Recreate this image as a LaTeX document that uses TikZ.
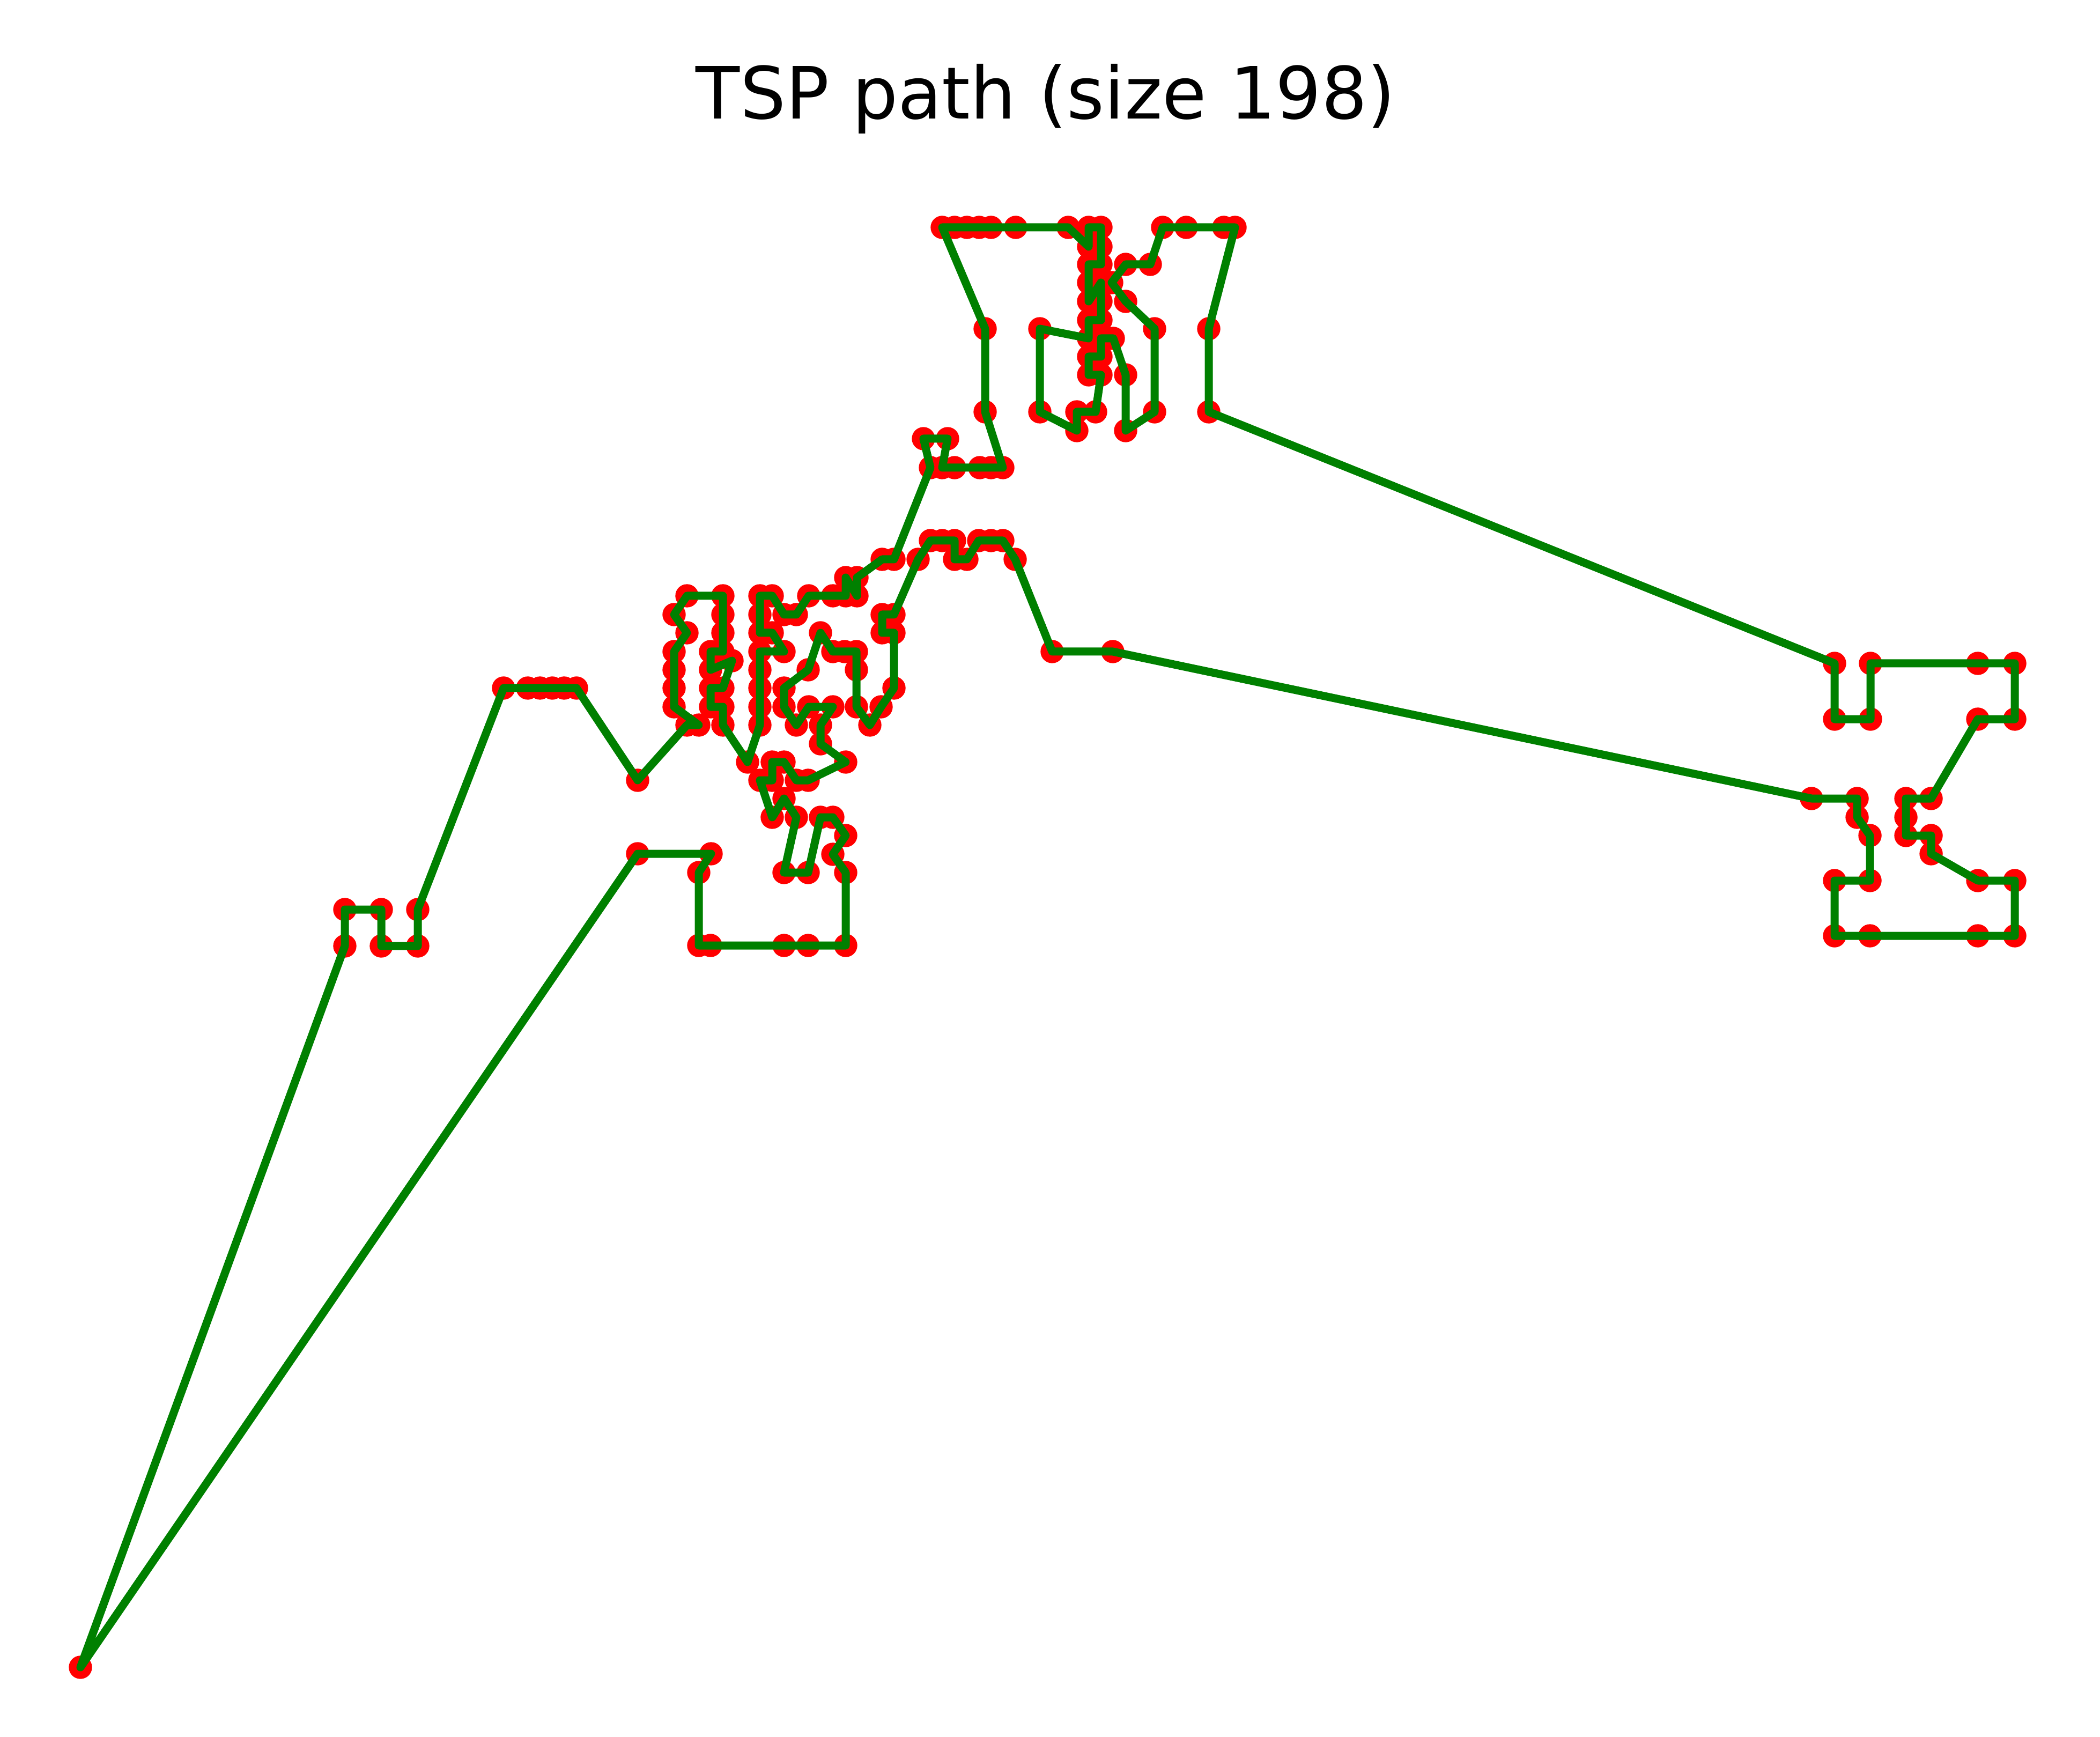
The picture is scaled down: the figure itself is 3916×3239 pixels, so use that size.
\documentclass[tikz,border=0pt]{standalone}
\usepackage{fontspec}
\setmainfont{DejaVu Sans}
\tikzset{every picture/.style={line width=0.75pt}}
\tikzset{
  city/.style={circle,fill={rgb, 255:red, 255; green, 0; blue, 0 },inner sep=0pt,minimum size=10.85pt},
  tour/.style={draw={rgb, 255:red, 0; green, 128; blue, 0 },line width=3.75pt,line join=round}
}
\begin{document}
\begin{tikzpicture}[x=0.25pt,y=0.25pt,yscale=-1,xscale=1]
	%set diagram size 3916 x 3239
	\path (0,0) rectangle (3916,3239);
	%Title
	\node [anchor=base] (title) at (1950,222) {\fontsize{33.6}{40}\selectfont TSP path (size 198)};
	
	%Cities: far point and left block
	\node [city] (c1) at (150,3109) {};
	\node [city] (c2) at (643,1764) {};
	\node [city] (c3) at (643,1696) {};
	\node [city] (c4) at (711,1696) {};
	\node [city] (c5) at (711,1764) {};
	\node [city] (c6) at (779,1764) {};
	\node [city] (c7) at (779,1696) {};
	\node [city] (c8) at (939,1283) {};
	\node [city] (c9) at (984,1283) {};
	\node [city] (c10) at (1007,1283) {};
	\node [city] (c11) at (1030,1283) {};
	\node [city] (c12) at (1052,1283) {};
	\node [city] (c13) at (1075,1283) {};
	\node [city] (c14) at (1189,1455) {};
	%Cities: middle block
	\node [city] (c15) at (1281,1352) {};
	\node [city] (c16) at (1303,1352) {};
	\node [city] (c17) at (1257,1318) {};
	\node [city] (c18) at (1257,1283) {};
	\node [city] (c19) at (1257,1249) {};
	\node [city] (c20) at (1257,1215) {};
	\node [city] (c21) at (1281,1180) {};
	\node [city] (c22) at (1257,1146) {};
	\node [city] (c23) at (1281,1111) {};
	\node [city] (c24) at (1348,1111) {};
	\node [city] (c25) at (1348,1146) {};
	\node [city] (c26) at (1348,1180) {};
	\node [city] (c27) at (1348,1215) {};
	\node [city] (c28) at (1325,1215) {};
	\node [city] (c29) at (1325,1249) {};
	\node [city] (c30) at (1365,1232) {};
	\node [city] (c31) at (1348,1283) {};
	\node [city] (c32) at (1325,1283) {};
	\node [city] (c33) at (1325,1318) {};
	\node [city] (c34) at (1348,1318) {};
	\node [city] (c35) at (1348,1352) {};
	\node [city] (c36) at (1394,1421) {};
	\node [city] (c37) at (1417,1352) {};
	\node [city] (c38) at (1417,1318) {};
	\node [city] (c39) at (1417,1283) {};
	\node [city] (c40) at (1417,1249) {};
	\node [city] (c41) at (1417,1215) {};
	\node [city] (c42) at (1462,1215) {};
	\node [city] (c43) at (1440,1180) {};
	\node [city] (c44) at (1417,1180) {};
	\node [city] (c45) at (1417,1146) {};
	\node [city] (c46) at (1417,1111) {};
	\node [city] (c47) at (1440,1111) {};
	\node [city] (c48) at (1462,1146) {};
	\node [city] (c49) at (1485,1146) {};
	\node [city] (c50) at (1508,1111) {};
	\node [city] (c51) at (1553,1111) {};
	\node [city] (c52) at (1577,1111) {};
	\node [city] (c53) at (1577,1077) {};
	\node [city] (c54) at (1598,1111) {};
	\node [city] (c55) at (1598,1077) {};
	\node [city] (c56) at (1645,1043) {};
	\node [city] (c57) at (1667,1043) {};
	%Cities: top block
	\node [city] (c58) at (1735,872) {};
	\node [city] (c59) at (1722,818) {};
	\node [city] (c60) at (1767,818) {};
	\node [city] (c61) at (1757,872) {};
	\node [city] (c62) at (1780,872) {};
	\node [city] (c63) at (1827,872) {};
	\node [city] (c64) at (1848,872) {};
	\node [city] (c65) at (1870,872) {};
	\node [city] (c66) at (1837,768) {};
	\node [city] (c67) at (1837,613) {};
	\node [city] (c68) at (1757,424) {};
	\node [city] (c69) at (1780,424) {};
	\node [city] (c70) at (1803,424) {};
	\node [city] (c71) at (1826,424) {};
	\node [city] (c72) at (1848,424) {};
	\node [city] (c73) at (1894,424) {};
	\node [city] (c74) at (1992,424) {};
	\node [city] (c75) at (2030,460) {};
	\node [city] (c76) at (2030,424) {};
	\node [city] (c77) at (2053,424) {};
	\node [city] (c78) at (2053,460) {};
	\node [city] (c79) at (2053,493) {};
	\node [city] (c80) at (2030,493) {};
	\node [city] (c81) at (2030,527) {};
	\node [city] (c82) at (2030,562) {};
	\node [city] (c83) at (2053,527) {};
	\node [city] (c84) at (2053,562) {};
	\node [city] (c85) at (2053,597) {};
	\node [city] (c86) at (2030,597) {};
	\node [city] (c87) at (2030,631) {};
	\node [city] (c88) at (1939,613) {};
	\node [city] (c89) at (1939,768) {};
	\node [city] (c90) at (2008,803) {};
	\node [city] (c91) at (2008,768) {};
	\node [city] (c92) at (2043,768) {};
	\node [city] (c93) at (2053,699) {};
	\node [city] (c94) at (2030,699) {};
	\node [city] (c95) at (2030,665) {};
	\node [city] (c96) at (2053,665) {};
	\node [city] (c97) at (2053,631) {};
	\node [city] (c98) at (2076,631) {};
	\node [city] (c99) at (2099,699) {};
	\node [city] (c100) at (2099,803) {};
	\node [city] (c101) at (2153,768) {};
	\node [city] (c102) at (2153,613) {};
	\node [city] (c103) at (2099,562) {};
	\node [city] (c104) at (2073,527) {};
	\node [city] (c105) at (2099,493) {};
	\node [city] (c106) at (2145,493) {};
	\node [city] (c107) at (2168,424) {};
	\node [city] (c108) at (2212,424) {};
	\node [city] (c109) at (2282,424) {};
	\node [city] (c110) at (2303,424) {};
	\node [city] (c111) at (2254,613) {};
	\node [city] (c112) at (2254,768) {};
	%Cities: right block
	\node [city] (c113) at (3421,1237) {};
	\node [city] (c114) at (3421,1341) {};
	\node [city] (c115) at (3488,1341) {};
	\node [city] (c116) at (3488,1237) {};
	\node [city] (c117) at (3688,1237) {};
	\node [city] (c118) at (3757,1237) {};
	\node [city] (c119) at (3757,1341) {};
	\node [city] (c120) at (3688,1341) {};
	\node [city] (c121) at (3601,1489) {};
	\node [city] (c122) at (3554,1489) {};
	\node [city] (c123) at (3554,1524) {};
	\node [city] (c124) at (3554,1558) {};
	\node [city] (c125) at (3601,1558) {};
	\node [city] (c126) at (3601,1592) {};
	\node [city] (c127) at (3688,1642) {};
	\node [city] (c128) at (3757,1642) {};
	\node [city] (c129) at (3757,1745) {};
	\node [city] (c130) at (3688,1745) {};
	\node [city] (c131) at (3487,1745) {};
	\node [city] (c132) at (3421,1745) {};
	\node [city] (c133) at (3421,1642) {};
	\node [city] (c134) at (3487,1642) {};
	\node [city] (c135) at (3487,1558) {};
	\node [city] (c136) at (3463,1524) {};
	\node [city] (c137) at (3463,1489) {};
	\node [city] (c138) at (3378,1489) {};
	%Cities: way back
	\node [city] (c139) at (2075,1215) {};
	\node [city] (c140) at (1962,1215) {};
	\node [city] (c141) at (1893,1043) {};
	\node [city] (c142) at (1870,1008) {};
	\node [city] (c143) at (1848,1008) {};
	\node [city] (c144) at (1825,1008) {};
	\node [city] (c145) at (1803,1043) {};
	\node [city] (c146) at (1780,1043) {};
	\node [city] (c147) at (1780,1008) {};
	\node [city] (c148) at (1757,1008) {};
	\node [city] (c149) at (1735,1008) {};
	\node [city] (c150) at (1712,1043) {};
	\node [city] (c151) at (1667,1146) {};
	\node [city] (c152) at (1645,1146) {};
	\node [city] (c153) at (1645,1180) {};
	\node [city] (c154) at (1667,1180) {};
	\node [city] (c155) at (1667,1283) {};
	\node [city] (c156) at (1643,1318) {};
	\node [city] (c157) at (1622,1352) {};
	\node [city] (c158) at (1597,1318) {};
	\node [city] (c159) at (1597,1249) {};
	\node [city] (c160) at (1597,1215) {};
	\node [city] (c161) at (1575,1215) {};
	\node [city] (c162) at (1553,1215) {};
	\node [city] (c163) at (1530,1180) {};
	\node [city] (c164) at (1507,1249) {};
	\node [city] (c165) at (1462,1283) {};
	\node [city] (c166) at (1462,1318) {};
	\node [city] (c167) at (1485,1352) {};
	\node [city] (c168) at (1508,1318) {};
	\node [city] (c169) at (1553,1318) {};
	\node [city] (c170) at (1530,1352) {};
	\node [city] (c171) at (1530,1387) {};
	\node [city] (c172) at (1577,1421) {};
	\node [city] (c173) at (1507,1455) {};
	\node [city] (c174) at (1485,1455) {};
	\node [city] (c175) at (1462,1421) {};
	\node [city] (c176) at (1440,1421) {};
	\node [city] (c177) at (1440,1455) {};
	\node [city] (c178) at (1417,1455) {};
	\node [city] (c179) at (1440,1524) {};
	\node [city] (c180) at (1462,1489) {};
	\node [city] (c181) at (1485,1524) {};
	\node [city] (c182) at (1462,1627) {};
	\node [city] (c183) at (1507,1627) {};
	\node [city] (c184) at (1530,1524) {};
	\node [city] (c185) at (1553,1524) {};
	\node [city] (c186) at (1577,1558) {};
	\node [city] (c187) at (1553,1593) {};
	\node [city] (c188) at (1577,1627) {};
	\node [city] (c189) at (1577,1763) {};
	\node [city] (c190) at (1507,1763) {};
	\node [city] (c191) at (1462,1763) {};
	\node [city] (c192) at (1325,1763) {};
	\node [city] (c193) at (1303,1763) {};
	\node [city] (c194) at (1303,1627) {};
	\node [city] (c195) at (1326,1592) {};
	\node [city] (c196) at (1189,1592) {};
	
	%Tour
	\draw [tour] (c1.center) -- (c2.center) -- (c3.center) -- (c4.center) -- (c5.center) -- (c6.center) -- (c7.center) -- (c8.center) -- (c9.center) -- (c10.center) -- (c11.center) -- (c12.center) -- (c13.center) -- (c14.center)
	 -- (c15.center) -- (c16.center) -- (c17.center) -- (c18.center) -- (c19.center) -- (c20.center) -- (c21.center) -- (c22.center) -- (c23.center) -- (c24.center) -- (c25.center) -- (c26.center) -- (c27.center) -- (c28.center) -- (c29.center) -- (c30.center)
	 -- (c31.center) -- (c32.center) -- (c33.center) -- (c34.center) -- (c35.center) -- (c36.center) -- (c37.center) -- (c38.center) -- (c39.center) -- (c40.center) -- (c41.center) -- (c42.center) -- (c43.center) -- (c44.center) -- (c45.center)
	 -- (c46.center) -- (c47.center) -- (c48.center) -- (c49.center) -- (c50.center) -- (c51.center) -- (c52.center) -- (c53.center) -- (c54.center) -- (c55.center) -- (c56.center) -- (c57.center) -- (c58.center) -- (c59.center) -- (c60.center)
	 -- (c61.center) -- (c62.center) -- (c63.center) -- (c64.center) -- (c65.center) -- (c66.center) -- (c67.center) -- (c68.center) -- (c69.center) -- (c70.center) -- (c71.center) -- (c72.center) -- (c73.center) -- (c74.center) -- (c75.center)
	 -- (c76.center) -- (c77.center) -- (c78.center) -- (c79.center) -- (c80.center) -- (c81.center) -- (c82.center) -- (c83.center) -- (c84.center) -- (c85.center) -- (c86.center) -- (c87.center) -- (c88.center) -- (c89.center) -- (c90.center)
	 -- (c91.center) -- (c92.center) -- (c93.center) -- (c94.center) -- (c95.center) -- (c96.center) -- (c97.center) -- (c98.center) -- (c99.center) -- (c100.center) -- (c101.center) -- (c102.center) -- (c103.center) -- (c104.center) -- (c105.center)
	 -- (c106.center) -- (c107.center) -- (c108.center) -- (c109.center) -- (c110.center) -- (c111.center) -- (c112.center) -- (c113.center) -- (c114.center) -- (c115.center) -- (c116.center) -- (c117.center) -- (c118.center) -- (c119.center) -- (c120.center)
	 -- (c121.center) -- (c122.center) -- (c123.center) -- (c124.center) -- (c125.center) -- (c126.center) -- (c127.center) -- (c128.center) -- (c129.center) -- (c130.center) -- (c131.center) -- (c132.center) -- (c133.center) -- (c134.center) -- (c135.center)
	 -- (c136.center) -- (c137.center) -- (c138.center) -- (c139.center) -- (c140.center) -- (c141.center) -- (c142.center) -- (c143.center) -- (c144.center) -- (c145.center) -- (c146.center) -- (c147.center) -- (c148.center) -- (c149.center) -- (c150.center)
	 -- (c151.center) -- (c152.center) -- (c153.center) -- (c154.center) -- (c155.center) -- (c156.center) -- (c157.center) -- (c158.center) -- (c159.center) -- (c160.center) -- (c161.center) -- (c162.center) -- (c163.center) -- (c164.center) -- (c165.center)
	 -- (c166.center) -- (c167.center) -- (c168.center) -- (c169.center) -- (c170.center) -- (c171.center) -- (c172.center) -- (c173.center) -- (c174.center) -- (c175.center) -- (c176.center) -- (c177.center) -- (c178.center) -- (c179.center) -- (c180.center)
	 -- (c181.center) -- (c182.center) -- (c183.center) -- (c184.center) -- (c185.center) -- (c186.center) -- (c187.center) -- (c188.center) -- (c189.center) -- (c190.center) -- (c191.center) -- (c192.center) -- (c193.center) -- (c194.center) -- (c195.center)
	 -- (c196.center) -- cycle ;
	
\end{tikzpicture}
\end{document}
